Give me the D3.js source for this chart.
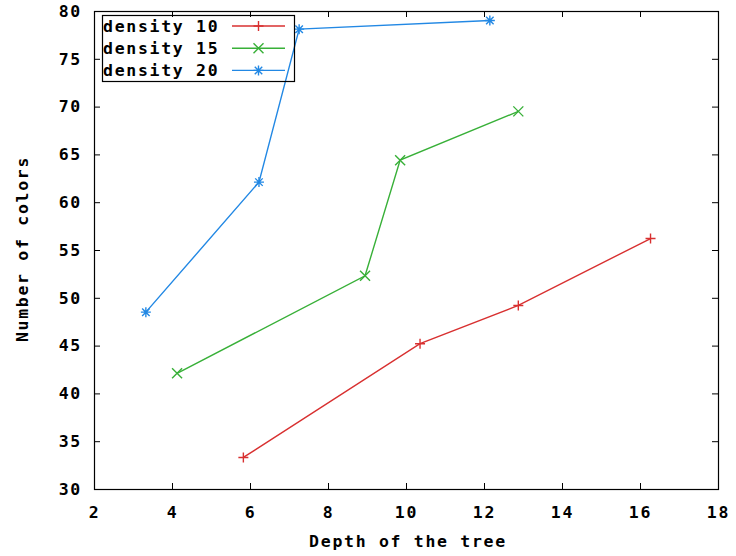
<!DOCTYPE html>
<html><head><meta charset="utf-8">
<script src="https://cdn.jsdelivr.net/npm/d3@7"></script>
<style>
body{margin:0;background:#fff;}
svg text{font-family:"DejaVu Sans Mono","Liberation Mono",monospace;font-weight:bold;font-size:16.5px;letter-spacing:1.7px;fill:#000;}
</style></head>
<body>
<svg id="chart" width="736" height="556"></svg>
<script>
const seriesNames = ["density 10", "density 15", "density 20"];
const seriesColors = ["#d83030", "#38b038", "#2288e4"];
const seriesMarkers = ["plus", "cross", "star"];
const xs10 = [5.83, 10.36, 12.88, 16.27];
const ys10 = [33.3, 45.2, 49.2, 56.2];
const xs15 = [4.13, 8.95, 9.85, 12.88];
const ys15 = [42.1, 52.3, 64.4, 69.5];
const xs20 = [3.33, 6.23, 7.26, 12.15];
const ys20 = [48.5, 62.1, 78.1, 79.0];
const xTicks = [2, 4, 6, 8, 10, 12, 14, 16, 18];
const yTicks = [30, 35, 40, 45, 50, 55, 60, 65, 70, 75, 80];
const xTitle = "Depth of the tree";
const yTitle = "Number of colors";

const series = [
  {name: seriesNames[0], color: seriesColors[0], marker: seriesMarkers[0], pts: xs10.map((x,i)=>[x, ys10[i]])},
  {name: seriesNames[1], color: seriesColors[1], marker: seriesMarkers[1], pts: xs15.map((x,i)=>[x, ys15[i]])},
  {name: seriesNames[2], color: seriesColors[2], marker: seriesMarkers[2], pts: xs20.map((x,i)=>[x, ys20[i]])}
];

const L = 94, R = 718, T = 11, B = 489;
const svg = d3.select("#chart");
const x = d3.scaleLinear().domain([2, 18]).range([L, R]);
const y = d3.scaleLinear().domain([30, 80]).range([B, T]);

function markerPath(type, s) {
  if (type === "plus") return `M${-s},0H${s}M0,${-s}V${s}`;
  if (type === "cross") return `M${-s},${-s}L${s},${s}M${-s},${s}L${s},${-s}`;
  return `M${-s},0H${s}M0,${-s}V${s}M${-s*0.75},${-s*0.75}L${s*0.75},${s*0.75}M${-s*0.75},${s*0.75}L${s*0.75},${-s*0.75}`;
}

// axes with inward ticks
const tl = 6;
const axB = svg.append("g").attr("transform", `translate(0,${B})`)
  .call(d3.axisBottom(x).tickValues(xTicks).tickSize(-tl).tickPadding(14).tickFormat(d3.format("d")));
const axT = svg.append("g").attr("transform", `translate(0,${T})`)
  .call(d3.axisTop(x).tickValues(xTicks).tickSize(-tl).tickFormat(""));
const axL = svg.append("g").attr("transform", `translate(${L},0)`)
  .call(d3.axisLeft(y).tickValues(yTicks).tickSize(-tl).tickPadding(14).tickFormat(d3.format("d")));
const axR = svg.append("g").attr("transform", `translate(${R},0)`)
  .call(d3.axisRight(y).tickValues(yTicks).tickSize(-tl).tickFormat(""));
[axB, axT, axL, axR].forEach(g => {
  g.select(".domain").remove();
  g.selectAll(".tick line").attr("stroke", "#000").attr("stroke-width", 1);
  g.selectAll("text").attr("font-size", null).attr("font-family", null).attr("fill", "#000");
});
axB.selectAll("text").attr("dy", "0.9em");
axL.selectAll("text").attr("dx", "2px");

svg.append("rect").attr("x", L + 0.5).attr("y", T + 0.5).attr("width", R - L).attr("height", B - T)
  .attr("fill", "none").attr("stroke", "#000").attr("stroke-width", 1.2);

// titles
svg.append("text").attr("x", (L + R) / 2 + 2).attr("y", 547).attr("text-anchor", "middle").text(xTitle);
svg.append("text").attr("transform", `translate(28,${(T + B) / 2 - 1}) rotate(-90)`).attr("text-anchor", "middle").text(yTitle);

// series
const line = d3.line().x(d => x(d[0])).y(d => y(d[1]));
series.forEach(s => {
  svg.append("path").attr("d", line(s.pts)).attr("fill", "none").attr("stroke", s.color).attr("stroke-width", 1.4);
  svg.selectAll(null).data(s.pts).enter().append("path")
    .attr("transform", d => `translate(${x(d[0])},${y(d[1])})`)
    .attr("d", markerPath(s.marker, 5)).attr("fill", "none").attr("stroke", s.color).attr("stroke-width", 1.4);
});

// legend (transparent, like gnuplot)
const lg = svg.append("g");
lg.append("rect").attr("x", 102.5).attr("y", 15.5).attr("width", 192).attr("height", 66)
  .attr("fill", "none").attr("stroke", "#000").attr("stroke-width", 1.2);
series.forEach((s, i) => {
  const cy = 26 + i * 22.2;
  lg.append("text").attr("x", 103).attr("y", cy).attr("dy", "0.35em").text(s.name);
  lg.append("line").attr("x1", 232).attr("x2", 285).attr("y1", cy).attr("y2", cy)
    .attr("stroke", s.color).attr("stroke-width", 1.4);
  lg.append("path").attr("transform", `translate(258.5,${cy})`).attr("d", markerPath(s.marker, 5))
    .attr("fill", "none").attr("stroke", s.color).attr("stroke-width", 1.4);
});
</script>
</body></html>
